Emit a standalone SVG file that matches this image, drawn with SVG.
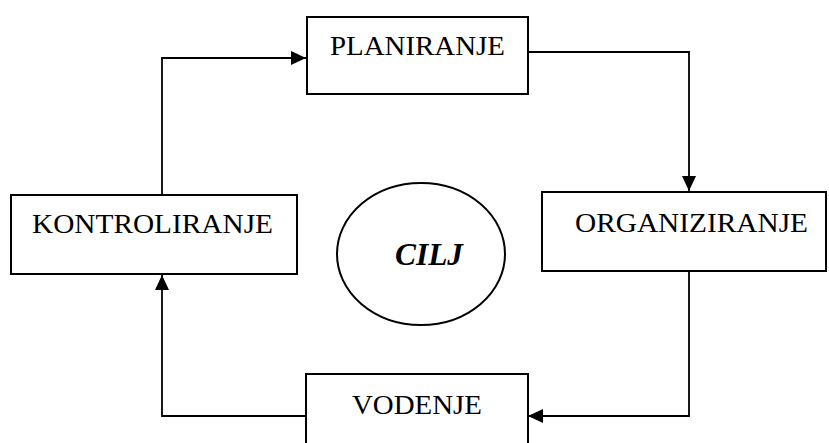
<svg xmlns="http://www.w3.org/2000/svg" width="829" height="443" viewBox="0 0 829 443">
  <style>
    .box { fill: #fff; stroke: #000; stroke-width: 2; }
    .lbl { font-family: "Liberation Serif", "Times New Roman", serif; font-size: 27px; fill: #000; }
    .goal { font-family: "Liberation Serif", "Times New Roman", serif; font-size: 31px; font-weight: bold; font-style: italic; fill: #000; }
    .link { fill: none; stroke: #000; stroke-width: 1.8; }
  </style>
  <defs>
    <marker id="arrow" viewBox="0 0 15 14" refX="15" refY="7" markerWidth="15" markerHeight="14" markerUnits="userSpaceOnUse" orient="auto">
      <path d="M0,0 L15,7 L0,14 Z" fill="#000"/>
    </marker>
  </defs>
  <rect width="829" height="443" fill="#fff"/>

  <g id="connectors">
    <path class="link" d="M162,195 V58 H306" marker-end="url(#arrow)"/>
    <path class="link" d="M528,52 H689 V191" marker-end="url(#arrow)"/>
    <path class="link" d="M689,271 V416 H528" marker-end="url(#arrow)"/>
    <path class="link" d="M306,416 H162 V275" marker-end="url(#arrow)"/>
  </g>

  <g id="planiranje">
    <rect class="box" x="307" y="17" width="221" height="77"/>
    <text class="lbl" x="330" y="55" textLength="175" lengthAdjust="spacingAndGlyphs">PLANIRANJE</text>
  </g>

  <g id="organiziranje">
    <rect class="box" x="542" y="192" width="284" height="79"/>
    <text class="lbl" x="575" y="232" textLength="233" lengthAdjust="spacingAndGlyphs">ORGANIZIRANJE</text>
  </g>

  <g id="vodenje">
    <rect class="box" x="306" y="374" width="222" height="80"/>
    <text class="lbl" x="352" y="414" textLength="130" lengthAdjust="spacingAndGlyphs">VODENJE</text>
  </g>

  <g id="kontroliranje">
    <rect class="box" x="11" y="195" width="286" height="79"/>
    <text class="lbl" x="32" y="233" textLength="241" lengthAdjust="spacingAndGlyphs">KONTROLIRANJE</text>
  </g>

  <g id="cilj">
    <ellipse cx="421" cy="254" rx="84" ry="71" fill="#fff" stroke="#000" stroke-width="2"/>
    <text class="goal" x="395" y="265" textLength="68" lengthAdjust="spacingAndGlyphs">CILJ</text>
  </g>
</svg>
